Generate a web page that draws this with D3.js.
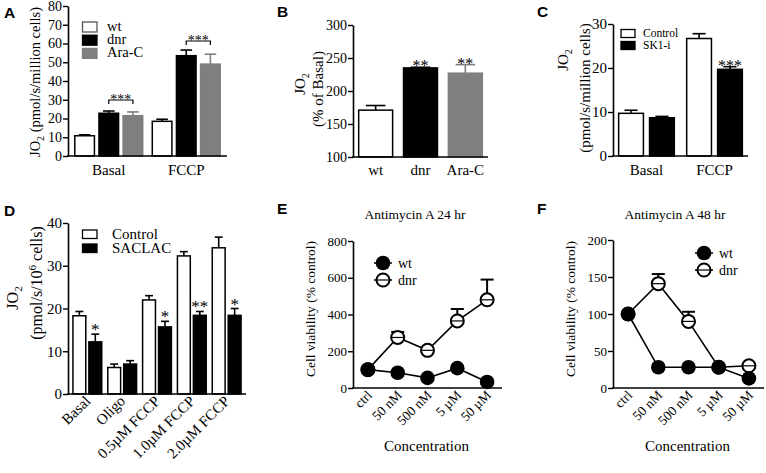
<!DOCTYPE html>
<html><head><meta charset="utf-8">
<script src="https://cdn.jsdelivr.net/npm/d3@7"></script>
<style>body{margin:0;background:#fff}</style>
</head><body><svg id="c" width="766" height="473"></svg>
<script>
// ---------- DATA ----------
// Panel A
const aGroups = ["Basal", "FCCP"];
const aSeries = ["wt", "dnr", "Ara-C"];
const aWt = [10.8, 18.5], aWtErr = [11.3, 19.6];
const aDnr = [22.8, 53.5], aDnrErr = [24.0, 56.5];
const aAra = [21.5, 49.0], aAraErr = [23.5, 54.3];
const aTicks = [0, 10, 20, 30, 40, 50, 60, 70, 80];
// Panel B
const bCats = ["wt", "dnr", "Ara-C"];
const bVals = [171, 235, 227];
const bErr = [178, 236, 240];
const bStars = ["", "**", "**"];
const bTicks = [100, 150, 200, 250, 300];
// Panel C
const cGroups = ["Basal", "FCCP"];
const cSeries = ["Control", "SK1-i"];
const cControl = [9.7, 26.7], cControlErr = [10.4, 27.8];
const cSk1 = [8.7, 19.7], cSk1Err = [9.0, 20.3];
const cSk1Stars = ["", "***"];
const cTicks = [0, 10, 20, 30];
// Panel D
const dCats = ["Basal", "Oligo", "0.5\u00b5M FCCP", "1.0\u00b5M FCCP", "2.0\u00b5M FCCP"];
const dSeries = ["Control", "SACLAC"];
const dControl = [18.3, 6.2, 22.0, 32.3, 34.2];
const dControlErr = [19.3, 7.0, 23.0, 33.3, 36.7];
const dSaclac = [12.2, 7.0, 15.7, 18.4, 18.4];
const dSaclacErr = [14.0, 7.8, 17.0, 19.3, 20.0];
const dStars = ["*", "", "*", "**", "*"];
const dTicks = [0, 10, 20, 30, 40];
// Panel E / F
const conc = ["ctrl", "50 nM", "500 nM", "5 \u00b5M", "50 \u00b5M"];
const eWt = [100, 83, 55, 108, 33];
const eDnr = [100, 275, 205, 365, 480];
const eDnrErr = [null, 305, 212, 430, 590];
const eTicks = [0, 200, 400, 600, 800];
const fWt = [100, 28, 28, 28, 13];
const fDnr = [100, 141, 90, 28, 30];
const fDnrErr = [null, 154, 103, null, null];
const fTicks = [0, 50, 100, 150, 200];

// ---------- HELPERS ----------
const SERIF = "'Liberation Serif','Times New Roman',serif";
const SANS = "'Liberation Sans',Arial,sans-serif";
const svg = d3.select("#c");
svg.append("rect").attr("width", 766).attr("height", 473).attr("fill", "#fff");

function yAxis(y, x, ticks, fs) {
  const g = svg.append("g").attr("transform", `translate(${x},0)`)
    .call(d3.axisLeft(y).tickValues(ticks).tickSize(5).tickPadding(1).tickSizeOuter(0));
  g.select(".domain").attr("stroke", "#000").attr("stroke-width", 1.6);
  g.selectAll(".tick line").attr("stroke", "#000").attr("stroke-width", 1.4);
  g.selectAll(".tick text").attr("font-family", SERIF).attr("font-size", fs).attr("fill", "#000");
  return g;
}
function xLine(x0, x1, y) {
  svg.append("line").attr("x1", x0 - 0.8).attr("x2", x1).attr("y1", y).attr("y2", y)
    .attr("stroke", "#000").attr("stroke-width", 1.6);
}
function letter(t, x, y) {
  svg.append("text").attr("x", x).attr("y", y).text(t)
    .attr("font-family", SANS).attr("font-weight", "bold").attr("font-size", 15.5);
}
function rotLabel(x, y, fs, parts) {
  const t = svg.append("text").attr("transform", `translate(${x},${y}) rotate(-90)`)
    .attr("text-anchor", "middle").attr("font-family", SERIF).attr("font-size", fs);
  parts.forEach(p => {
    const s = t.append("tspan").text(p.t);
    if (p.dy) s.attr("dy", p.dy);
    if (p.fs) s.attr("font-size", p.fs);
  });
  return t;
}
function errBar(cx, yTop, yVal, w, color, sw) {
  svg.append("line").attr("x1", cx).attr("x2", cx).attr("y1", yVal).attr("y2", yTop)
    .attr("stroke", color).attr("stroke-width", sw || 1.6);
  svg.append("line").attr("x1", cx - w / 2).attr("x2", cx + w / 2).attr("y1", yTop).attr("y2", yTop)
    .attr("stroke", color).attr("stroke-width", sw || 1.6);
}
function bar(x, w, y0, y1, fill, stroke) {
  svg.append("rect").attr("x", x + 0.75).attr("y", y1).attr("width", w - 1.5).attr("height", y0 - y1)
    .attr("fill", fill).attr("stroke", stroke).attr("stroke-width", 1.5);
}
function stars(t, x, y, fs) {
  svg.append("text").attr("x", x).attr("y", y).text(t).attr("text-anchor", "middle")
    .attr("font-family", SERIF).attr("font-size", fs || 16);
}
function legBox(x, y, w, h, fill, stroke) {
  svg.append("rect").attr("x", x).attr("y", y).attr("width", w).attr("height", h)
    .attr("fill", fill).attr("stroke", stroke).attr("stroke-width", 1.3);
}
function txt(t, x, y, fs, anchor) {
  return svg.append("text").attr("x", x).attr("y", y).text(t).attr("font-family", SERIF)
    .attr("font-size", fs).attr("text-anchor", anchor || "start");
}

const GRAY = "#7f7f7f";

// ---------- PANEL A ----------
{
  const y = d3.scaleLinear([0, 80], [156, 6]);
  const x = d3.scaleBand(aGroups, [68, 227]).paddingInner(0.104).paddingOuter(0.078);
  const xi = d3.scaleBand(aSeries, [0, x.bandwidth()]).paddingInner(0.125);
  const ser = [
    {k: "wt", v: aWt, e: aWtErr, fill: "#fff", stroke: "#000"},
    {k: "dnr", v: aDnr, e: aDnrErr, fill: "#000", stroke: "#000"},
    {k: "Ara-C", v: aAra, e: aAraErr, fill: GRAY, stroke: GRAY}
  ];
  aGroups.forEach((g, gi) => ser.forEach(s => {
    const bx = x(g) + xi(s.k), bw = xi.bandwidth();
    errBar(bx + bw / 2, y(s.e[gi]), y(s.v[gi]), bw * 0.55, s.stroke);
    bar(bx, bw, y(0), y(s.v[gi]), s.fill, s.stroke);
  }));
  yAxis(y, 68, aTicks, 14);
  xLine(68, 227, 156);
  aGroups.forEach(g => txt(g, x(g) + x.bandwidth() / 2, 175, 15, "middle"));
  // brackets
  aGroups.forEach((g, gi) => {
    const c1 = x(g) + xi("dnr") + xi.bandwidth() / 2, c2 = x(g) + xi("Ara-C") + xi.bandwidth() / 2;
    const by = gi === 0 ? 100 : 41;
    svg.append("path").attr("d", `M${c1},${by + 4}V${by}H${c2}V${by + 4}`)
      .attr("fill", "none").attr("stroke", "#000").attr("stroke-width", 1.2);
    stars("***", (c1 + c2) / 2, by + 4, 14);
  });
  // legend
  ser.forEach((s, i) => {
    legBox(82.5, 22 + i * 13.2, 14.5, 10, s.fill, s.k === "wt" ? "#555" : s.stroke);
    txt(s.k, 107, 31 + i * 13.2, 14.5);
  });
  rotLabel(40, 82, 14.5, [{t: "JO"}, {t: "2", dy: 4, fs: 10}, {t: " (pmol/s/million cells)", dy: -4}]);
  letter("A", 4, 18);
}

// ---------- PANEL B ----------
{
  const y = d3.scaleLinear([100, 300], [157, 25]);
  const x = d3.scaleBand(bCats, [353, 488]).paddingInner(0.21).paddingOuter(0.11);
  const fills = ["#fff", "#000", GRAY], strokes = ["#000", "#000", GRAY];
  bCats.forEach((c, i) => {
    const bx = x(c), bw = x.bandwidth();
    errBar(bx + bw / 2, y(bErr[i]), y(bVals[i]), bw * 0.55, strokes[i]);
    bar(bx, bw, y(100), y(bVals[i]), fills[i], strokes[i]);
    if (bStars[i]) stars(bStars[i], bx + bw / 2, y(bErr[i]) + 4, 16);
    txt(c, bx + bw / 2, 175, 15, "middle");
  });
  yAxis(y, 353, bTicks, 14);
  xLine(353, 488, 157);
  rotLabel(305, 84, 15, [{t: "JO"}, {t: "2", dy: 4, fs: 10}]);
  rotLabel(323, 89, 15, [{t: "(% of  Basal)"}]);
  letter("B", 277, 17);
}

// ---------- PANEL C ----------
{
  const y = d3.scaleLinear([0, 30], [156, 24]);
  const x = d3.scaleBand(cGroups, [613, 748]).paddingInner(0.16).paddingOuter(0.072);
  const xi = d3.scaleBand(cSeries, [0, x.bandwidth()]).paddingInner(0.15);
  const ser = [
    {k: "Control", v: cControl, e: cControlErr, fill: "#fff"},
    {k: "SK1-i", v: cSk1, e: cSk1Err, fill: "#000", st: cSk1Stars}
  ];
  cGroups.forEach((g, gi) => ser.forEach(s => {
    const bx = x(g) + xi(s.k), bw = xi.bandwidth();
    errBar(bx + bw / 2, y(s.e[gi]), y(s.v[gi]), bw * 0.5, "#000");
    bar(bx, bw, y(0), y(s.v[gi]), s.fill, "#000");
    if (s.st && s.st[gi]) stars(s.st[gi], bx + bw / 2, y(s.e[gi]) + 4, 16);
  }));
  yAxis(y, 613, cTicks, 15);
  xLine(613, 748, 156);
  cGroups.forEach(g => txt(g, x(g) + x.bandwidth() / 2, 175, 15, "middle"));
  ser.forEach((s, i) => {
    legBox(621, 29.5 + i * 12, 14, 8, s.fill, "#000");
    txt(s.k, 643, 37 + i * 12, 11.5);
  });
  rotLabel(568, 60, 15, [{t: "JO"}, {t: "2", dy: 4, fs: 10}]);
  rotLabel(590, 88, 15, [{t: "(pmol/s/million cells)"}]);
  letter("C", 537, 17);
}

// ---------- PANEL D ----------
{
  const y = d3.scaleLinear([0, 40], [394, 223]);
  const x = d3.scaleBand(dCats, [68, 246]).paddingInner(0.13).paddingOuter(0.12);
  const xi = d3.scaleBand(dSeries, [0, x.bandwidth()]).paddingInner(0.1);
  const ser = [
    {k: "Control", v: dControl, e: dControlErr, fill: "#fff"},
    {k: "SACLAC", v: dSaclac, e: dSaclacErr, fill: "#000", st: dStars}
  ];
  dCats.forEach((g, gi) => ser.forEach(s => {
    const bx = x(g) + xi(s.k), bw = xi.bandwidth();
    errBar(bx + bw / 2, y(s.e[gi]), y(s.v[gi]), bw * 0.55, "#000");
    bar(bx, bw, y(0), y(s.v[gi]), s.fill, "#000");
    if (s.st && s.st[gi]) stars(s.st[gi], bx + bw / 2, y(s.e[gi]) + 1, 17);
  }));
  yAxis(y, 68, dTicks, 15);
  xLine(68, 246, 394);
  dCats.forEach(g => {
    const cx = x(g) + x.bandwidth() / 2 + 4;
    svg.append("text").attr("transform", `translate(${cx},${402}) rotate(-45)`)
      .attr("text-anchor", "end").attr("font-family", SERIF).attr("font-size", 15).text(g);
  });
  ser.forEach((s, i) => {
    legBox(82.5, 230 + i * 14, 14.5, 8.5, s.fill, "#000");
    txt(s.k, 112, 238.5 + i * 14, 15);
  });
  rotLabel(18, 298, 16, [{t: "JO"}, {t: "2", dy: 4, fs: 11}]);
  rotLabel(42, 283, 16, [{t: "(pmol/s/10"}, {t: "6", dy: -6, fs: 11}, {t: " cells)", dy: 6}]);
  letter("D", 4, 216);
}

// ---------- PANELS E & F ----------
function linePanel(opt) {
  const y = d3.scaleLinear(opt.dom, [388, opt.yTop]);
  const x = d3.scalePoint(conc, [opt.x0, opt.x1]).padding(0.5);
  const line = d3.line().x((d, i) => x(conc[i])).y(d => y(d));
  const R = 6.5;
  svg.append("path").attr("d", line(opt.dnr)).attr("fill", "none").attr("stroke", "#000").attr("stroke-width", 1.6);
  svg.append("path").attr("d", line(opt.wt)).attr("fill", "none").attr("stroke", "#000").attr("stroke-width", 1.6);
  opt.dnr.forEach((v, i) => {
    if (opt.err[i] != null) errBar(x(conc[i]), y(opt.err[i]), y(v), 13, "#000", 2);
  });
  function openC(cx, cy) {
    svg.append("circle").attr("cx", cx).attr("cy", cy).attr("r", R).attr("fill", "#fff")
      .attr("stroke", "#000").attr("stroke-width", 2);
    svg.append("line").attr("x1", cx - R).attr("x2", cx + R).attr("y1", cy).attr("y2", cy)
      .attr("stroke", "#000").attr("stroke-width", 1.2);
  }
  function fillC(cx, cy) {
    svg.append("circle").attr("cx", cx).attr("cy", cy).attr("r", R + 0.8).attr("fill", "#000");
  }
  opt.dnr.forEach((v, i) => openC(x(conc[i]), y(v)));
  opt.wt.forEach((v, i) => fillC(x(conc[i]), y(v)));
  yAxis(y, opt.x0, opt.ticks, 13);
  xLine(opt.x0, opt.x1, 388);
  conc.forEach(c => {
    svg.append("text").attr("transform", `translate(${x(c) + 5},${396}) rotate(-45)`)
      .attr("text-anchor", "end").attr("font-family", SERIF).attr("font-size", 13.5).text(c);
  });
  txt("Concentration", (opt.x0 + opt.x1) / 2 - 1, 451, 15, "middle");
  txt(opt.title, opt.x0 + 62, 219, 13.5, "middle");
  rotLabel(opt.x0 - 38, 309, 13.5, [{t: "Cell viability (% control)"}]);
  // legend
  const [lx, ly] = opt.leg;
  [["wt", 0], ["dnr", 17]].forEach(([k, dy]) => {
    svg.append("line").attr("x1", lx - 9).attr("x2", lx + 9).attr("y1", ly + dy).attr("y2", ly + dy)
      .attr("stroke", "#000").attr("stroke-width", 1.5);
    if (k === "wt") fillC(lx, ly + dy); else openC(lx, ly + dy);
    txt(k, lx + 15, ly + dy + 4.5, 14);
  });
  letter(opt.letter, opt.lx, 214);
}
linePanel({dom: [0, 800], yTop: 241, x0: 353, x1: 502, wt: eWt, dnr: eDnr, err: eDnrErr,
  ticks: eTicks, title: "Antimycin A 24 hr", leg: [383, 263], letter: "E", lx: 277});
linePanel({dom: [0, 200], yTop: 240, x0: 613, x1: 764, wt: fWt, dnr: fDnr, err: fDnrErr,
  ticks: fTicks, title: "Antimycin A 48 hr", leg: [704, 253], letter: "F", lx: 537});
</script></body></html>
